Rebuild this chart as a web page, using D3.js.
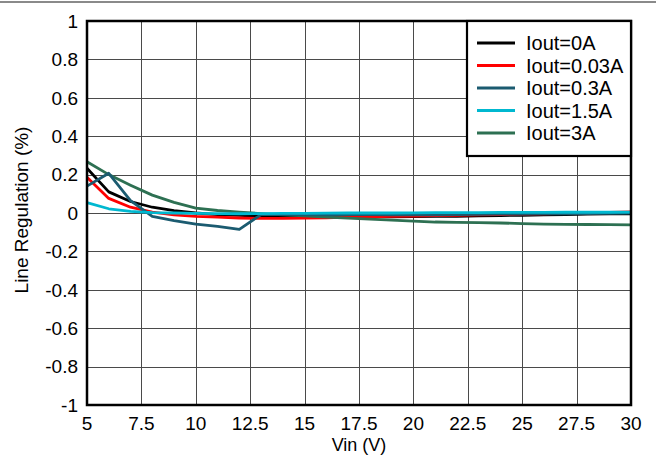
<!DOCTYPE html>
<html>
<head>
<meta charset="utf-8">
<script src="https://cdn.jsdelivr.net/npm/d3@7"></script>
<style>
  html, body { margin: 0; padding: 0; background: #fff; }
  svg { display: block; font-family: Arial, "Liberation Sans", sans-serif; }
</style>
</head>
<body>
<svg id="chart" width="660" height="460"></svg>
<script>
// ---- data ----
const vin = [5,6,7,8,9,10,11,12,13,14,15,16,17,18,19,20,21,22,23,24,25,26,27,28,29,30];
const iout0A   = [0.233,0.11,0.06,0.03,0.012,0.0,-0.008,-0.012,-0.017,-0.02,-0.022,-0.022,-0.02,-0.02,-0.02,-0.019,-0.018,-0.017,-0.015,-0.013,-0.012,-0.01,-0.008,-0.006,-0.005,-0.004];
const iout003A = [0.186,0.076,0.03,0.005,-0.01,-0.018,-0.022,-0.026,-0.028,-0.028,-0.027,-0.025,-0.022,-0.02,-0.018,-0.016,-0.014,-0.012,-0.01,-0.008,-0.006,-0.004,-0.002,0.0,0.003,0.006];
const iout03A  = [0.14,0.207,0.065,-0.017,-0.04,-0.058,-0.07,-0.085,-0.008,-0.008,-0.01,-0.01,-0.008,-0.008,-0.01,-0.01,-0.009,-0.008,-0.007,-0.006,-0.006,-0.005,-0.004,-0.003,-0.002,-0.001];
const iout15A  = [0.054,0.022,0.008,0.002,0.0,-0.002,-0.003,-0.004,-0.003,-0.002,-0.002,-0.001,0.0,0.0,0.0,0.001,0.002,0.002,0.002,0.003,0.003,0.003,0.004,0.004,0.004,0.005];
const iout3A   = [0.267,0.2,0.145,0.093,0.055,0.025,0.013,0.005,-0.003,-0.01,-0.015,-0.022,-0.027,-0.032,-0.037,-0.042,-0.047,-0.049,-0.05,-0.052,-0.055,-0.058,-0.059,-0.06,-0.061,-0.062];

const seriesNames  = ["Iout=0A","Iout=0.03A","Iout=0.3A","Iout=1.5A","Iout=3A"];
const seriesValues = [iout0A, iout003A, iout03A, iout15A, iout3A];
const seriesColors = ["#000000","#ff0000","#1b5b70","#00b8d0","#2d7052"];
const drawOrder    = [0,1,4,2,3];

const xTicks = [5,7.5,10,12.5,15,17.5,20,22.5,25,27.5,30];
const yTicks = [-1,-0.8,-0.6,-0.4,-0.2,0,0.2,0.4,0.6,0.8,1];

// ---- layout ----
const L = 87, R = 631, T = 21, B = 405;
const svg = d3.select("#chart");
const x = d3.scaleLinear().domain([5,30]).range([L,R]);
const y = d3.scaleLinear().domain([-1,1]).range([B,T]);
const px = v => Math.round(v) + 0.5;

// top gray rule
svg.append("rect").attr("x",0).attr("y",1).attr("width",656).attr("height",2).attr("fill","#8a8a8a");

// grid
const grid = svg.append("g").attr("stroke","#4a4a4a").attr("stroke-width",1);
grid.selectAll("line.v").data(xTicks.slice(1,-1)).join("line")
  .attr("x1",d=>px(x(d))).attr("x2",d=>px(x(d))).attr("y1",T).attr("y2",B);
grid.selectAll("line.h").data(yTicks.slice(1,-1)).join("line")
  .attr("y1",d=>px(y(d))).attr("y2",d=>px(y(d))).attr("x1",L).attr("x2",R);

// series
const line = d3.line().x((d,i)=>x(vin[i])).y(d=>y(d));
const lines = svg.append("g");
drawOrder.forEach(k=>{
  lines.append("path").datum(seriesValues[k])
    .attr("d",line).attr("fill","none")
    .attr("stroke",seriesColors[k]).attr("stroke-width",2.8)
    .attr("stroke-linejoin","round");
});

// frame
svg.append("rect").attr("x",L).attr("y",T).attr("width",R-L).attr("height",B-T)
  .attr("fill","none").attr("stroke","#000").attr("stroke-width",2.5);

// axes tick labels
const fmt = d => String(d);
svg.append("g").selectAll("text").data(yTicks).join("text")
  .attr("x",78).attr("y",d=>y(d)).attr("dy","0.36em")
  .attr("text-anchor","end").attr("font-size",19).attr("fill","#000").text(fmt);
svg.append("g").selectAll("text").data(xTicks).join("text")
  .attr("x",d=>x(d)).attr("y",430)
  .attr("text-anchor","middle").attr("font-size",19).attr("fill","#000").text(fmt);

// axis titles
svg.append("text").attr("x",(L+R)/2).attr("y",451).attr("text-anchor","middle")
  .attr("font-size",18).text("Vin (V)");
svg.append("text").attr("transform","translate(28,210) rotate(-90)").attr("text-anchor","middle")
  .attr("font-size",19).text("Line Regulation (%)");

// legend
const lg = svg.append("g");
lg.append("rect").attr("x",467).attr("y",T).attr("width",R-467).attr("height",135)
  .attr("fill","#fff").attr("stroke","#000").attr("stroke-width",2.2);
seriesNames.forEach((n,i)=>{
  const yy = 43 + 22.5*i;
  lg.append("line").attr("x1",477).attr("x2",515).attr("y1",yy).attr("y2",yy)
    .attr("stroke",seriesColors[i]).attr("stroke-width",3);
  lg.append("text").attr("x",526).attr("y",yy).attr("dy","0.36em")
    .attr("font-size",20).text(n);
});
</script>
</body>
</html>
